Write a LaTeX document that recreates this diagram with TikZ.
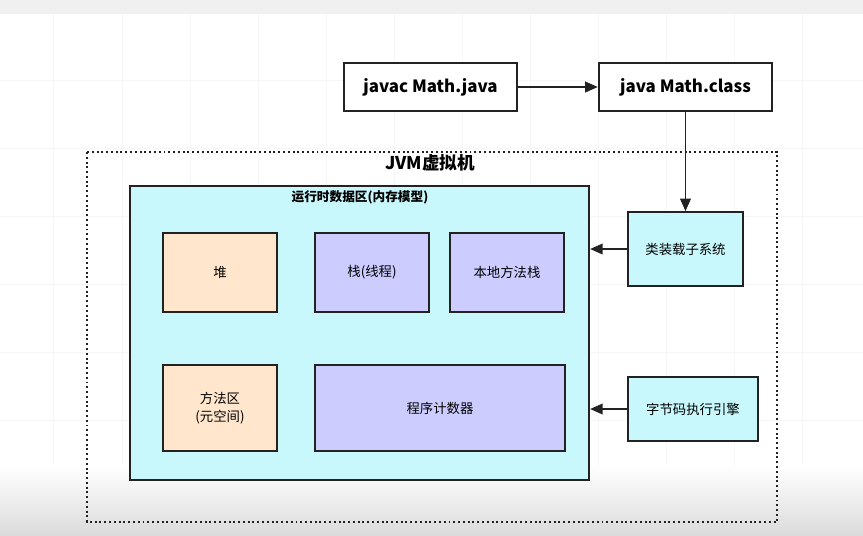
\documentclass[tikz,border=0pt]{standalone}
\usepackage{fontspec}
\setmainfont{Noto Sans CJK SC}
\usepackage{xcolor}
\definecolor{jvmcyan}{RGB}{200,248,252}
\definecolor{jvmorange}{RGB}{255,230,204}
\definecolor{jvmpurple}{RGB}{204,204,255}
\definecolor{jvmline}{RGB}{34,34,34}
\usetikzlibrary{arrows.meta, positioning}

\tikzset{
  cmdbox/.style={draw=jvmline, line width=1.6pt, fill=white, minimum width=173*0.025cm, minimum height=48*0.025cm, font=\fontsize{12}{14}\selectfont\bfseries},
  areabox/.style={draw=jvmline, line width=1.1pt, minimum width=#1*0.025cm, font=\fontsize{9.5}{13}\selectfont, align=center},
  flow/.style={draw=jvmline, line width=1.4pt, -{Triangle[length=9pt,width=7.5pt]}}
}

\begin{document}
\begin{tikzpicture}[x=0.025cm, y=-0.025cm]
  \useasboundingbox (0,0) rectangle (863,535);
  % background
  \fill[white] (0,0) rectangle (863,535);
  \fill[gray!12] (0,0) rectangle (863,14);
  \foreach \gx in {53,122,190,258,326,394,462,530,598,666,734,802} {
    \draw[gray!7, line width=0.6pt] (\gx,14) -- (\gx,535);
  }
  \foreach \gy in {80,148,216,284,352,420,488} {
    \draw[gray!7, line width=0.6pt] (0,\gy) -- (863,\gy);
  }
  \shade[top color=white, bottom color=gray!28] (0,465) rectangle (863,535);

  % compile steps
  \node[cmdbox] (javac) at (430.5,87) {javac Math.java};
  \node[cmdbox] (java) at (685.5,87) {java Math.class};

  % JVM frame
  \draw[jvmline, line width=1.4pt, dotted] (87,152) rectangle (777,522);
  \node[font=\fontsize{12.5}{14}\selectfont\bfseries] (jvm) at (430,163) {JVM虚拟机};

  % runtime data area
  \node[draw=jvmline, line width=1.5pt, fill=jvmcyan, minimum width=459*0.025cm, minimum height=294*0.025cm] (runtime) at (359.5,333) {};
  \node[font=\fontsize{9}{11}\selectfont\bfseries] (runtimetitle) at (360,197) {运行时数据区(内存模型)};

  \node[areabox=114, fill=jvmorange, minimum height=79*0.025cm] (heap) at (220,272.5) {堆};
  \node[areabox=114, fill=jvmpurple, minimum height=79*0.025cm] (stack) at (372,272.5) {栈(线程)};
  \node[areabox=114, fill=jvmpurple, minimum height=79*0.025cm] (native) at (507,272.5) {本地方法栈};
  \node[areabox=114, fill=jvmorange, minimum height=86*0.025cm] (method) at (220,408) {方法区\\(元空间)};
  \node[areabox=250, fill=jvmpurple, minimum height=86*0.025cm] (counter) at (440,408) {程序计数器};

  % subsystems
  \node[areabox=115, fill=jvmcyan, minimum height=74*0.025cm] (loader) at (685.5,249) {类装载子系统};
  \node[areabox=130, fill=jvmcyan, minimum height=64*0.025cm] (engine) at (693,409) {字节码执行引擎};

  % connectors
  \draw[flow] (javac.east) -- (java.west);
  \draw[flow] (java.south) -- (loader.north);
  \draw[flow] (loader.west) -- (loader.west -| runtime.east);
  \draw[flow] (engine.west) -- (engine.west -| runtime.east);
\end{tikzpicture}
\end{document}
